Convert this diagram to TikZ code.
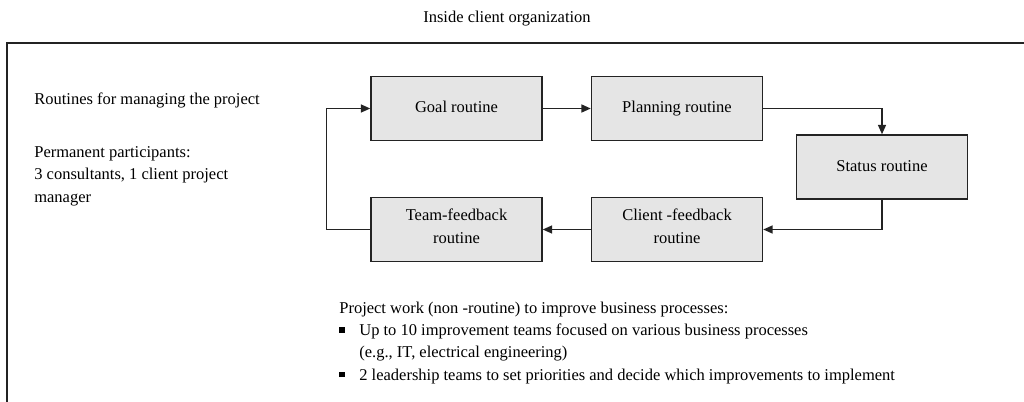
\documentclass[tikz,border=0pt]{standalone}
\usepackage{fontspec}
\setmainfont{Liberation Serif}
\usepackage{xcolor}
\usetikzlibrary{arrows.meta}
\definecolor{cBox}{RGB}{229,229,229}
\definecolor{cEdge}{RGB}{35,35,35}
\newcommand{\sqbul}{\makebox[12pt][l]{\rule[1.8pt]{3.2pt}{3.2pt}}}
\tikzset{
  routine/.style={draw=cEdge,fill=cBox,line width=0.9pt,minimum width=102.6pt,minimum height=38.4pt,align=center,inner sep=2pt,
    execute at begin node=\strut,execute at end node=\strut},
  flow/.style={draw=cEdge,line width=0.8pt,-{Triangle[length=5.6pt,width=4.8pt]}},
  plain/.style={anchor=base west,inner sep=0pt,align=left}
}

\begin{document}
\begin{tikzpicture}[x=0.6pt,y=-0.6pt,font=\fontsize{9.9}{13.3}\selectfont]
\useasboundingbox (0,0) rectangle (1024,402);
% frame of the client organization
\node[anchor=base,inner sep=0pt] (title) at (507,23) {Inside client organization};
\draw[cEdge,line width=0.9pt] (1030,43) -- (7,43) -- (7,410);
% left texts (base = last line)
\node[plain] (head) at (34,105) {Routines for managing the project};
\node[plain] (members) at (34,202) {Permanent participants:\\3 consultants, 1 client project\\manager};
% routine cycle
\node[routine] (goal) at (456.5,108.5) {Goal routine};
\node[routine] (plan) at (677,108.5) {Planning routine};
\node[routine] (status) at (882,167) {Status routine};
\node[routine] (clientfb) at (677,229.5) {Client -feedback\\routine};
\node[routine] (teamfb) at (456.5,229.5) {Team-feedback\\routine};
\draw[flow] (goal) -- (plan);
\draw[flow] (plan.east) -| (status.north);
\draw[flow] (status.south) |- (clientfb.east);
\draw[flow] (clientfb) -- (teamfb);
\draw[flow] (teamfb.west) -- ++(-44,0) |- (goal.west);
% project work
\node[plain] (work) at (339,380) {Project work (non -routine) to improve business processes:\\
\sqbul Up to 10 improvement teams focused on various business processes\\
\hspace*{12pt}(e.g., IT, electrical engineering)\\
\sqbul 2 leadership teams to set priorities and decide which improvements to implement};
\end{tikzpicture}
\end{document}
